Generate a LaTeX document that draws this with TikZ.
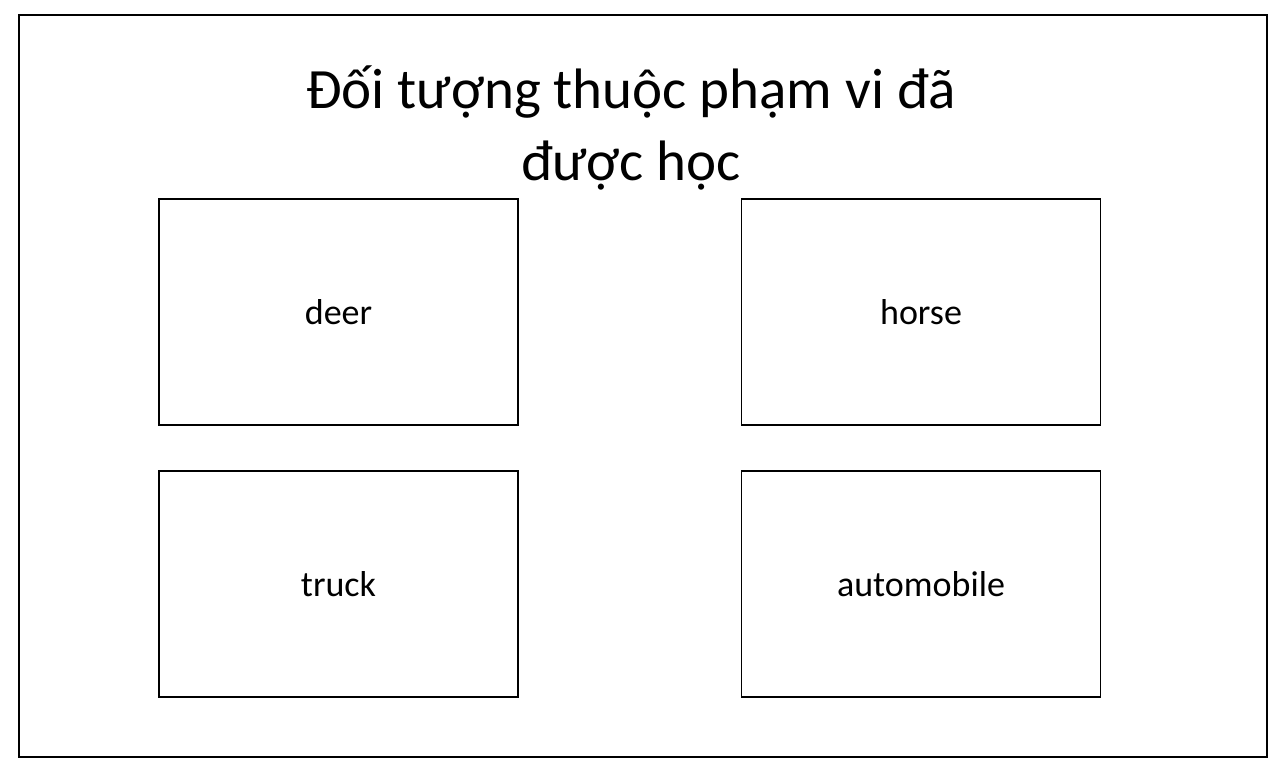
\documentclass[tikz,border=0pt]{standalone}
\usepackage{fontspec}
\setmainfont{Carlito}
\begin{document}
\begin{tikzpicture}[x=1pt,y=-1pt,
  catbox/.style={draw=black,line width=1.6pt,minimum width=359pt,minimum height=226pt,inner sep=0pt,font=\fontsize{36}{43}\selectfont},
  titletext/.style={align=center,font=\fontsize{57}{72}\selectfont,inner sep=0pt}]
\useasboundingbox (0,0) rectangle (1281,768);
\node[draw=black,line width=1.6pt,minimum width=1248pt,minimum height=742pt,inner sep=0pt] (frame) at (643,386) {};
\node[titletext,anchor=base] (title) at (631,180) {Đối tượng thuộc phạm vi đã\\được học};
\node[catbox] (deer) at (338.5,312) {deer};
\node[catbox] (horse) at (921,312) {horse};
\node[catbox] (truck) at (338.5,584) {truck};
\node[catbox] (auto) at (921,584) {automobile};
\end{tikzpicture}
\end{document}
